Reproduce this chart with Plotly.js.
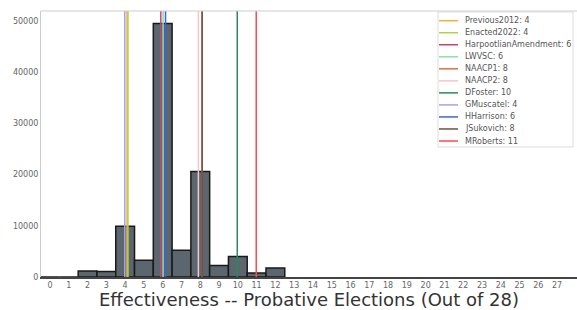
<!DOCTYPE html>
<html>
<head>
<meta charset="utf-8">
<script src="https://cdn.plot.ly/plotly-3.0.1.min.js"></script>
<style>html,body{margin:0;padding:0;background:#fff;}#chart{width:577px;height:310px;}</style>
</head>
<body>
<div id="chart"></div>
<script>
// Histogram bins (number of effective probative elections) and counts
const bins = [0,1,2,3,4,5,6,7,8,9,10,11,12];
const counts = [0,0,1170,1050,9900,3260,49500,5210,20600,2230,3980,780,1760];

// Plan markers
const planNames = ["Previous2012","Enacted2022","HarpootlianAmendment","LWVSC","NAACP1","NAACP2","DFoster","GMuscatel","HHarrison","JSukovich","MRoberts"];
const planValues = [4,4,6,6,8,8,10,4,6,8,11];
// small display jitter so overlapping lines remain visible
const planJitter = [0.1,0.15,-0.1,0.02,0.1,-0.1,-0.03,-0.02,0.15,0.1,-0.02];
const planColors = ["#f2b134","#b8cf45","#c8456e","#88e0b0","#d9703f","#f7c5cf","#2a8a5e","#a8a0ea","#3d63d8","#6e4f42","#ff4a4a"];

const xTicks = Array.from({length:29},(_,i)=>i);
const yTicks = [0,10000,20000,30000,40000,50000];
const yMax = 51950;

const W = 577, H = 310, ML = 41, MR = 0, MT = 11, MB = 33;
const PW = W - ML - MR, PH = H - MT - MB;
const px = v => (v - ML) / PW;          // pixel -> paper x
const py = v => (H - MB - v) / PH;      // pixel -> paper y

const traces = [{
  type:'bar', x:bins, y:counts, width:1,
  marker:{color:'#5b666e', line:{color:'#1a1a1a', width:1.5}},
  showlegend:false, hoverinfo:'x+y'
}];
planNames.forEach((n,i)=>{
  const xv = planValues[i] + planJitter[i];
  traces.push({
    type:'scatter', mode:'lines', x:[xv,xv], y:[0,yMax],
    name: n + ': ' + planValues[i], showlegend:false,
    line:{color:planColors[i], width:1.5}
  });
});

// custom compact legend (matplotlib style)
const shapes = [
  {type:'line', xref:'paper', yref:'paper', x0:0, x1:1, y0:1, y1:1, line:{color:'#ccc', width:1}},
  {type:'rect', xref:'paper', yref:'paper', x0:px(438), x1:px(573), y0:py(147), y1:py(12),
   fillcolor:'rgba(255,255,255,0.9)', line:{color:'#ddd', width:1}}
];
const annotations = [];
planNames.forEach((n,i)=>{
  const yy = 20.7 + i*12.03;
  shapes.push({type:'line', xref:'paper', yref:'paper', x0:px(439), x1:px(458), y0:py(yy), y1:py(yy),
    line:{color:planColors[i], width:1.5}});
  annotations.push({xref:'paper', yref:'paper', x:px(463), y:py(yy), xanchor:'left', yanchor:'middle',
    text: n + ': ' + planValues[i], showarrow:false, font:{size:8, color:'#555', family:'DejaVu Sans'}});
});

const layout = {
  width:W, height:H,
  margin:{l:ML, r:MR, t:MT, b:MB},
  paper_bgcolor:'#fff', plot_bgcolor:'#fff',
  font:{family:'DejaVu Sans', color:'#555'},
  bargap:0,
  xaxis:{
    range:[-0.48, 28.06], tickvals:xTicks, ticktext:xTicks.map(String), automargin:false,
    tickfont:{size:8, color:'#666'}, showgrid:false, zeroline:false,
    showline:true, linecolor:'#444', linewidth:1.5, mirror:false,
    ticks:'', fixedrange:true,
    title:{text:'Effectiveness -- Probative Elections (Out of 28)', font:{size:18, color:'#333'}, standoff:4}
  },
  yaxis:{
    range:[0, yMax], tickvals:yTicks, ticktext:yTicks.map(String), automargin:false,
    tickfont:{size:8, color:'#666'}, showgrid:false, zeroline:false,
    showline:true, linecolor:'#ccc', linewidth:1, ticks:'', fixedrange:true
  },
  shapes: shapes,
  annotations: annotations,
  showlegend:false
};

Plotly.newPlot('chart', traces, layout, {displayModeBar:false, staticPlot:true});
</script>
</body>
</html>
